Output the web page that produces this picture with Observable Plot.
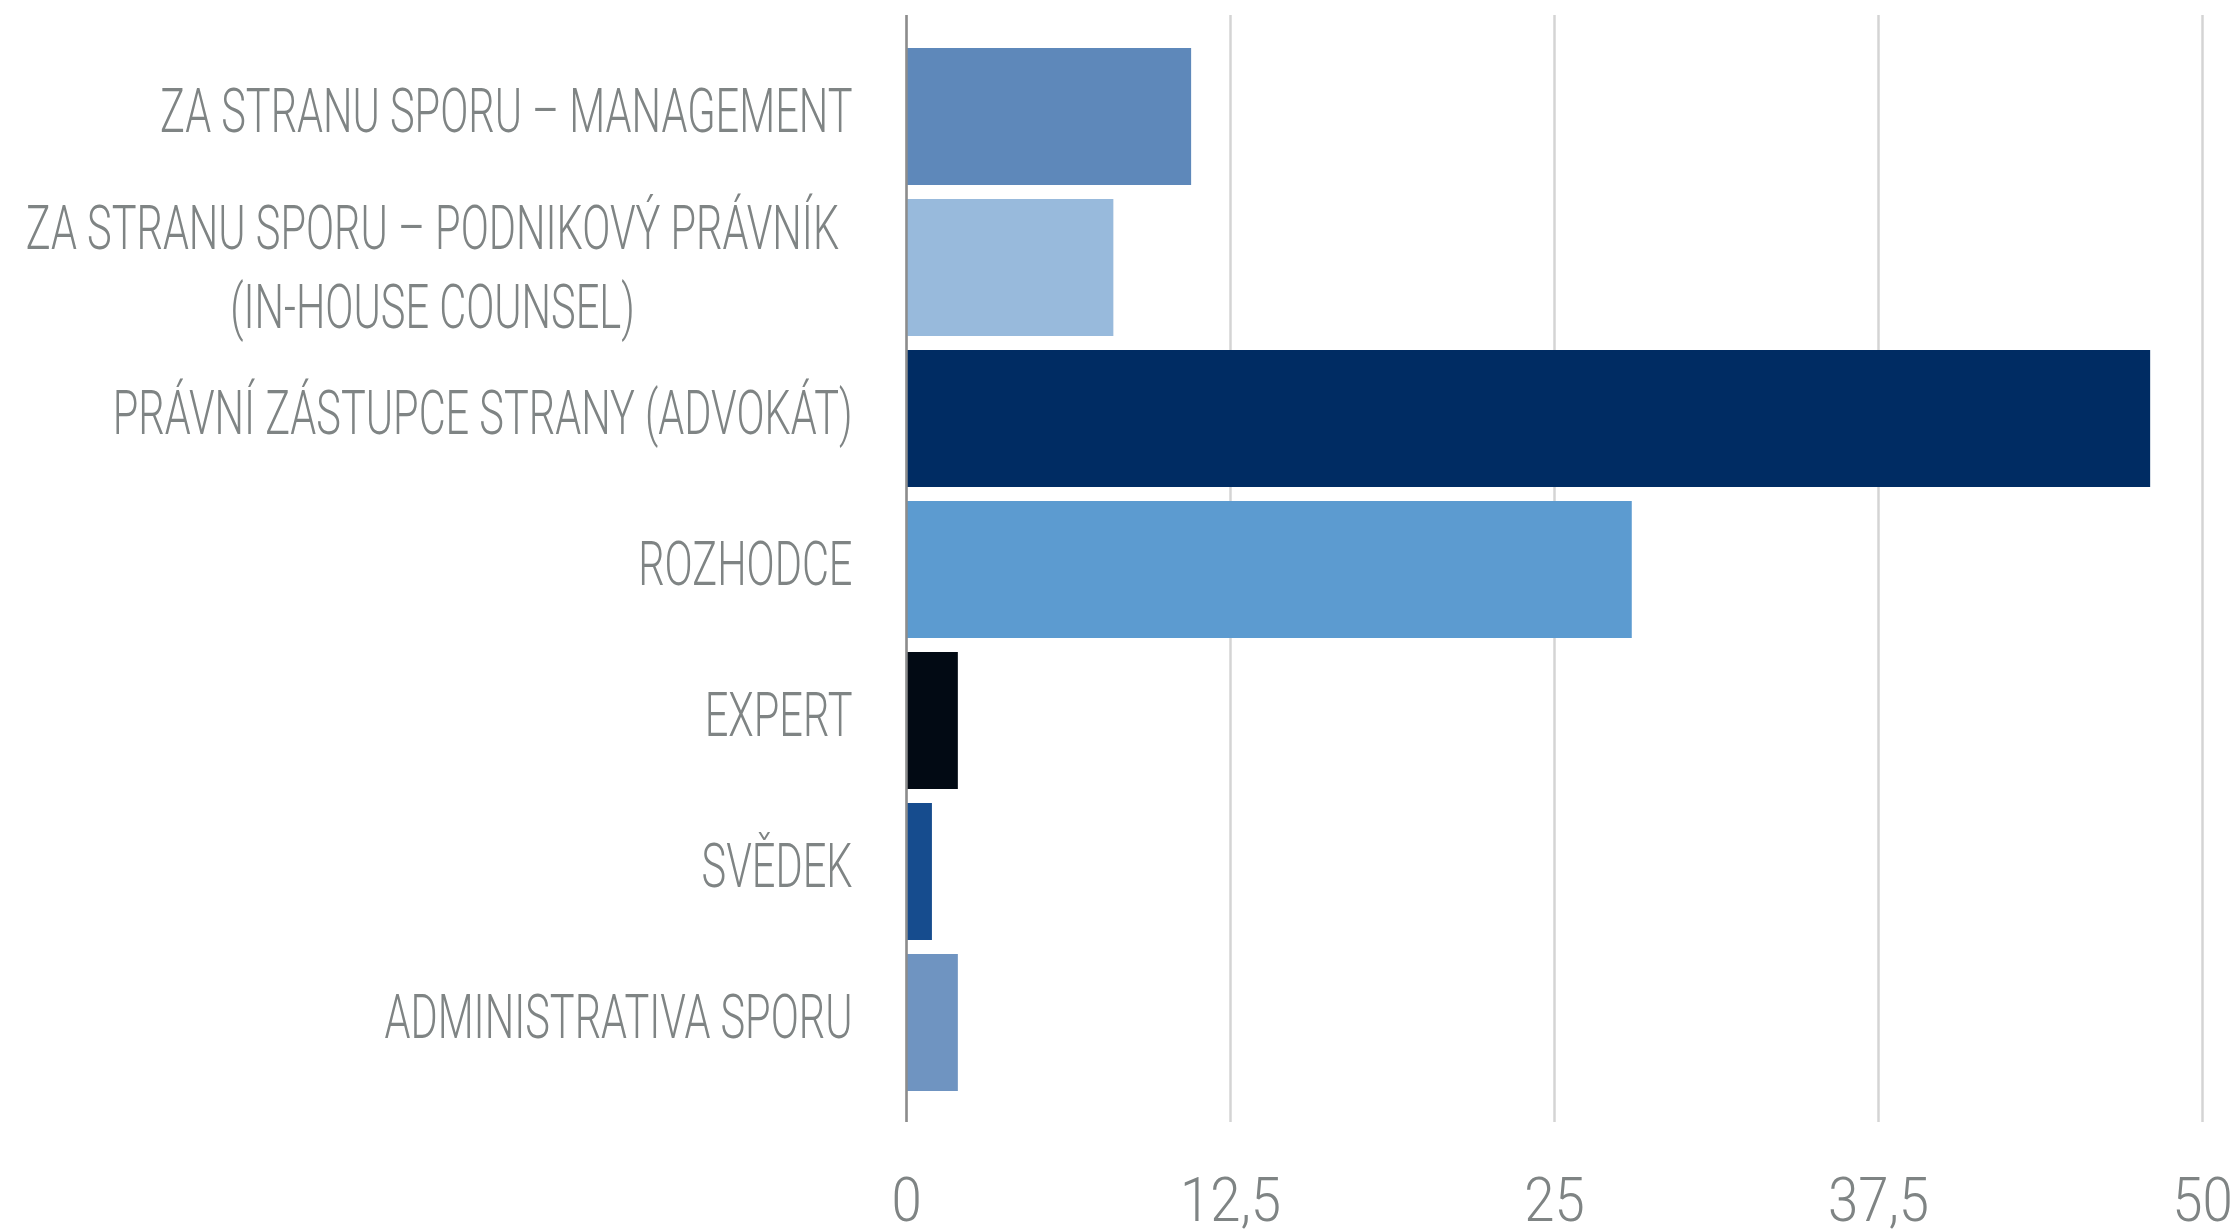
<!DOCTYPE html>
<html><head><meta charset="utf-8">
<script src="https://cdn.jsdelivr.net/npm/d3@7"></script>
<script src="https://cdn.jsdelivr.net/npm/@observablehq/plot@0.6"></script>
<style>html,body{margin:0;padding:0;background:#fff} svg{display:block}</style>
</head><body><div id="chart"></div>
<script>
const categories = [
  "ZA STRANU SPORU – MANAGEMENT",
  "ZA STRANU SPORU – PODNIKOVÝ PRÁVNÍK\n(IN-HOUSE COUNSEL)",
  "PRÁVNÍ ZÁSTUPCE STRANY (ADVOKÁT)",
  "ROZHODCE",
  "EXPERT",
  "SVĚDEK",
  "ADMINISTRATIVA SPORU"
];
const values = [11, 8, 48, 28, 2, 1, 2];
const colors = ["#5e88ba", "#98badc", "#002c63", "#5c9bd0", "#020a14", "#164c8e", "#6f94c1"];
const xTicks = [0, 12.5, 25, 37.5, 50];

const data = categories.map((c, i) => ({category: c, value: values[i], color: colors[i]}));
const TEXT = "#7f8484";
const FONT = "Roboto, 'Liberation Sans', sans-serif";
const singleLine = categories.filter(c => !c.includes("\n"));
const multiLine = categories.filter(c => c.includes("\n"));

const chart = Plot.plot({
  width: 2238,
  height: 1232,
  marginLeft: 906,
  marginRight: 36,
  marginTop: 15,
  marginBottom: 110,
  style: {fontFamily: FONT, fontSize: "62px", fontWeight: 300, color: TEXT, background: "#fff"},
  x: {domain: [0, 50], label: null},
  y: {domain: categories, padding: 0.093, insetTop: 15, insetBottom: 14, label: null},
  marks: [
    Plot.gridX(xTicks, {stroke: "#d4d4d4", strokeOpacity: 1, strokeWidth: 2.5}),
    Plot.barX(data, {x: "value", y: "category", fill: "color"}),
    Plot.ruleX([0], {stroke: "#8c8c8c", strokeWidth: 2.5}),
    Plot.axisX(xTicks, {tickSize: 0, tickPadding: 54, label: null, tickFormat: d => String(d).replace(".", ","), fill: TEXT, fontSize: 62, fontWeight: 300, className: "xlab"}),
    Plot.axisY(singleLine, {tickSize: 0, tickPadding: 54, label: null, dy: -5, fill: TEXT, fontSize: 62, fontWeight: 300, className: "ylab"}),
    Plot.text(multiLine, {y: d => d, text: d => d, frameAnchor: "left", dx: -474, dy: -5, textAnchor: "middle", lineHeight: 1.27, fill: TEXT, fontSize: 62, fontWeight: 300, className: "ylab"})
  ]
});
document.getElementById("chart").appendChild(chart);

function squeeze(sel, s) {
  chart.querySelectorAll(sel + " text").forEach(t => {
    const tr = t.getAttribute("transform") || "";
    t.setAttribute("transform", tr + ` scale(${s},1)`);
  });
}
squeeze(".ylab", 0.67);
squeeze(".xlab", 0.88);
</script>
</body></html>
